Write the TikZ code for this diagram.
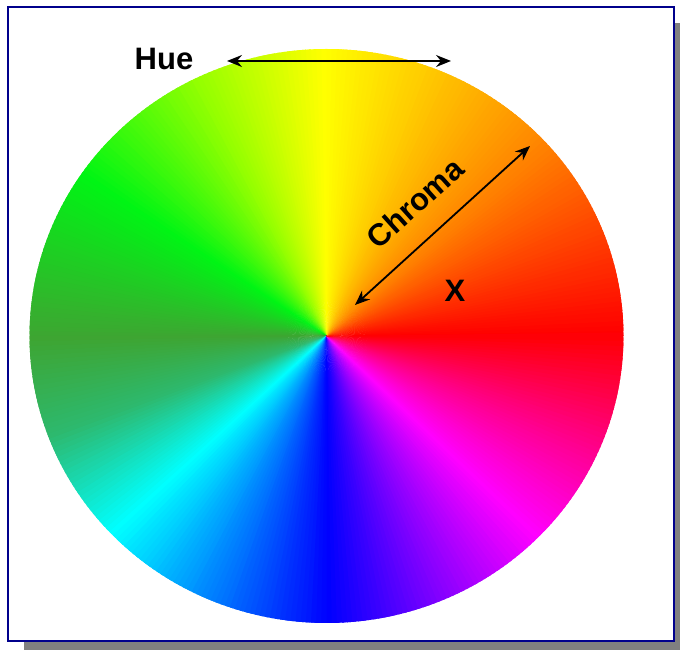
\documentclass[tikz,border=0pt]{standalone}
\usepackage{fontspec}
\setmainfont{Liberation Sans}
\usetikzlibrary{arrows.meta}
\definecolor{framenavy}{RGB}{0,0,140}
\definecolor{shadowgray}{RGB}{128,128,128}
\definecolor{h000}{RGB}{255,0,0}
\definecolor{h045}{RGB}{255,140,0}
\definecolor{h090}{RGB}{255,255,0}
\definecolor{h115}{RGB}{150,255,0}
\definecolor{h145}{RGB}{0,245,20}
\definecolor{h180}{RGB}{62,165,50}
\definecolor{h200}{RGB}{45,185,110}
\definecolor{h223}{RGB}{0,255,255}
\definecolor{h270}{RGB}{0,0,255}
\definecolor{h292}{RGB}{130,0,255}
\definecolor{h315}{RGB}{255,0,255}
\definecolor{h338}{RGB}{255,0,128}
\begin{document}
\begin{tikzpicture}[x=1pt,y=1pt,
  lbl/.style={font=\fontsize{31}{31}\selectfont\bfseries, text=black, inner sep=0pt},
  dblarrow/.style={line width=1.8pt, {Stealth[length=15pt,width=12pt,inset=5pt]}-{Stealth[length=15pt,width=12pt,inset=5pt]}}
]
\useasboundingbox (0,0) rectangle (680,650);
\begin{scope}
\clip (0,0) rectangle (680,650);
\fill[shadowgray] (24,-10) rectangle (690,627);
\end{scope}
\filldraw[fill=white, draw=framenavy, line width=2.6pt] (8,9) rectangle (674,643);
\coordinate (C) at (326.5,314);
\foreach \a/\b/\ca/\cb in {0/45/h000/h045, 45/90/h045/h090, 90/115/h090/h115,
  115/145/h115/h145, 145/180/h145/h180, 180/200/h180/h200, 200/223/h200/h223,
  223/270/h223/h270, 270/292/h270/h292, 292/315/h292/h315, 315/338/h315/h338,
  338/360/h338/h000}{
  \pgfmathtruncatemacro{\e}{\b-1}
  \foreach \t in {\a,...,\e}{
    \pgfmathtruncatemacro{\p}{round(100*(\b-\t)/(\b-\a))}
    \colorlet{wc}{\ca!\p!\cb}
    \fill[wc] (C) -- ++(\t:297 and 287) arc[start angle=\t, end angle=\t+1.7, x radius=297, y radius=287] -- cycle;
  }
}
\coordinate (hueL) at (227,589);
\coordinate (hueR) at (451,589);
\coordinate (chA) at (355,345);
\coordinate (chB) at (530,504);
\draw[dblarrow] (hueL) -- (hueR);
\draw[dblarrow] (chA) -- (chB);
\node[lbl] (hue) at (164,591) {Hue};
\node[lbl, rotate=42] (chroma) at (415,447) {Chroma};
\node[lbl] (x) at (455,359) {X};
\end{tikzpicture}
\end{document}
